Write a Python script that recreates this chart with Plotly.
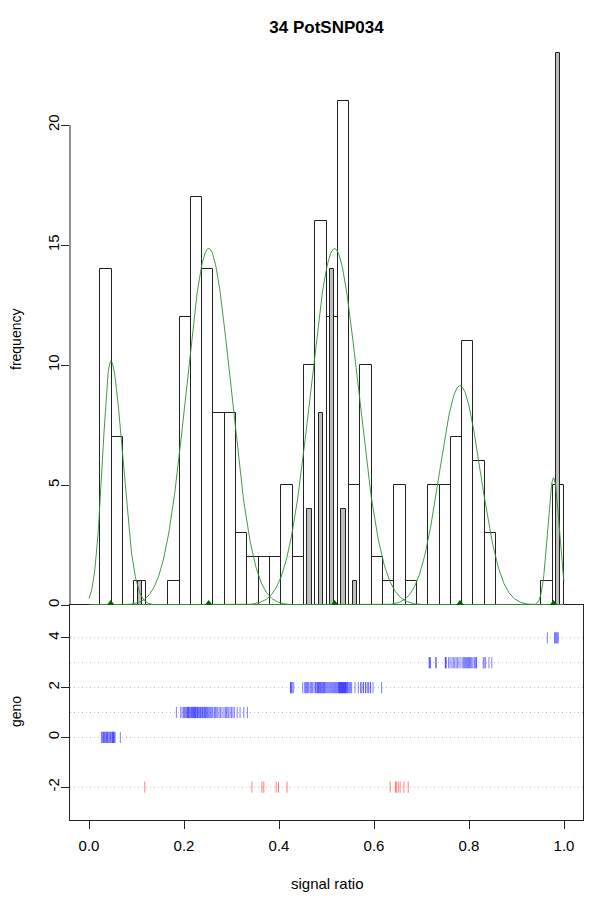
import numpy as np
import plotly.graph_objects as go

title_text = "34 PotSNP034"

# ---- histogram (wide bins) ----
bin_start = 0.024
bin_width = 0.0238
counts_all = [14, 7, 0, 1, 0, 0, 1, 12, 17, 14, 8, 8, 3, 2, 2, 2, 5, 2, 10, 16,
              12, 21, 5, 10, 2, 1, 5, 1, 0, 5, 5, 7, 11, 6, 3, 0, 0, 0, 0, 1, 5]

# ---- narrow gray bars (bin index, count) ----
gray_bins = [3, 18, 19, 20, 21, 22, 40]
gray_counts = [1, 4, 8, 14, 4, 1, 23]
gray_bar_width = 0.0091

# ---- fitted mixture components ----
comp_means = [0.0457, 0.252, 0.517, 0.781, 0.978]
comp_peaks = [10.17, 14.86, 14.85, 9.14, 5.3]
comp_sd_left = [0.017, 0.047, 0.050, 0.043, 0.012]
comp_sd_right = [0.025, 0.047, 0.050, 0.043, 0.012]

# ---- genotype rug positions ----
geno_4 = [0.965, 0.980, 0.982, 0.984, 0.986, 0.988]
geno_3 = [0.716, 0.717, 0.719, 0.730, 0.731,
          0.750, 0.751, 0.752, 0.757, 0.760,
          0.764, 0.767, 0.770, 0.773, 0.776, 0.779, 0.783,
          0.787, 0.789, 0.791, 0.793, 0.795, 0.797, 0.799, 0.801, 0.803, 0.805, 0.808,
          0.811, 0.813, 0.815, 0.816, 0.830, 0.832,
          0.835, 0.842, 0.848]
geno_2 = [0.424, 0.425, 0.426, 0.428, 0.431, 0.450,
          0.454, 0.456, 0.458, 0.460, 0.462, 0.465, 0.467, 0.469, 0.471, 0.474,
          0.477, 0.478, 0.480, 0.481, 0.483, 0.484, 0.485, 0.487, 0.488, 0.490,
          0.491, 0.493, 0.494, 0.496, 0.497, 0.499,
          0.501, 0.503, 0.505, 0.507, 0.509, 0.511, 0.513, 0.515, 0.517, 0.519, 0.521, 0.523,
          0.525, 0.526, 0.527, 0.528, 0.529, 0.530, 0.531, 0.532, 0.533, 0.534, 0.535,
          0.536, 0.537, 0.538, 0.539, 0.540, 0.541, 0.542, 0.544, 0.545, 0.547,
          0.549, 0.551, 0.553, 0.560, 0.567,
          0.572, 0.573, 0.577, 0.578, 0.582, 0.583, 0.587, 0.588, 0.592, 0.593,
          0.598, 0.616]
geno_1 = [0.184,
          0.193, 0.196, 0.199, 0.201, 0.203, 0.205, 0.207, 0.208, 0.209, 0.210, 0.212, 0.213,
          0.215, 0.216, 0.218, 0.219, 0.220, 0.222, 0.223, 0.224, 0.225, 0.227, 0.228,
          0.229, 0.231, 0.232, 0.234, 0.235, 0.237,
          0.239, 0.240, 0.242, 0.243, 0.245, 0.246, 0.248, 0.249, 0.251, 0.253, 0.255,
          0.257, 0.259, 0.261,
          0.264, 0.266, 0.268, 0.271, 0.274, 0.277, 0.280, 0.284,
          0.287, 0.289, 0.291, 0.294, 0.297, 0.300, 0.303, 0.306,
          0.312, 0.318, 0.326, 0.3335]
geno_0 = [0.026, 0.028, 0.030, 0.031, 0.033, 0.034, 0.036, 0.037, 0.039, 0.040,
          0.042, 0.044, 0.045, 0.047, 0.049, 0.050, 0.051, 0.052, 0.053, 0.055, 0.066]
geno_m2 = [0.1175, 0.343, 0.364, 0.368, 0.394, 0.399, 0.417,
           0.634, 0.645, 0.647, 0.651, 0.655, 0.663, 0.672]

geno_rows = [(4, geno_4), (3, geno_3), (2, geno_2), (1, geno_1), (0, geno_0)]
grid_levels = [-2, 0, 1, 2, 3, 4]

x_ticks = [0.0, 0.2, 0.4, 0.6, 0.8, 1.0]
freq_ticks = [0, 5, 10, 15, 20]
geno_ticks = [-2, 0, 2, 4]

FONT = "Liberation Sans, Arial, Helvetica, sans-serif"

# page body has an 8px margin; figure sized/placed to compensate
FIG_W, FIG_H = 592, 901
ML, MT = 62, 37
PW, PH = 513, 775
MR = FIG_W - ML - PW
MB = FIG_H - MT - PH

fig = go.Figure()

# wide histogram
centers = [bin_start + (i + 0.5) * bin_width for i in range(len(counts_all))]
fig.add_trace(go.Bar(x=centers, y=counts_all, width=bin_width,
                     marker=dict(color="white", line=dict(color="#222222", width=1)),
                     xaxis="x2", yaxis="y2", showlegend=False, hoverinfo="skip"))
# gray narrow bars
gcenters = [bin_start + (i + 0.5) * bin_width for i in gray_bins]
fig.add_trace(go.Bar(x=gcenters, y=gray_counts, width=gray_bar_width,
                     marker=dict(color="#bebebe", line=dict(color="#222222", width=1)),
                     xaxis="x2", yaxis="y2", showlegend=False, hoverinfo="skip"))

# mixture curves
xs = np.linspace(0, 1, 801)
for m, p, sl, sr in zip(comp_means, comp_peaks, comp_sd_left, comp_sd_right):
    sd = np.where(xs < m, sl, sr)
    ys = p * np.exp(-((xs - m) ** 2) / (2 * sd ** 2))
    fig.add_trace(go.Scatter(x=xs, y=ys, mode="lines",
                             line=dict(color="#2f8f2f", width=0.9),
                             xaxis="x2", yaxis="y2", showlegend=False, hoverinfo="skip"))
fig.add_trace(go.Scatter(x=comp_means, y=[0] * len(comp_means), mode="markers",
                         marker=dict(symbol="triangle-up", size=10, color="darkgreen"),
                         xaxis="x2", yaxis="y2", showlegend=False, cliponaxis=True,
                         hoverinfo="skip"))

# rug
for lvl, vals in geno_rows:
    fig.add_trace(go.Scatter(x=vals, y=[lvl] * len(vals), mode="markers",
                             marker=dict(symbol="line-ns", size=8, color="rgba(0,0,255,0.5)",
                                         line=dict(color="rgba(0,0,255,0.5)", width=1)),
                             xaxis="x", yaxis="y", showlegend=False, hoverinfo="skip"))
fig.add_trace(go.Scatter(x=geno_m2, y=[-2] * len(geno_m2), mode="markers",
                         marker=dict(symbol="line-ns", size=8, color="rgba(255,0,0,0.5)",
                                     line=dict(color="rgba(255,0,0,0.5)", width=1)),
                         xaxis="x", yaxis="y", showlegend=False, hoverinfo="skip"))

shapes = []
for g in grid_levels:
    shapes.append(dict(type="line", xref="paper", yref="y", x0=0, x1=1, y0=g, y1=g,
                       line=dict(color="#bdbdbd", width=1, dash="1px,3px"), layer="below"))
shapes.append(dict(type="line", xref="paper", yref="y2", x0=0, x1=0, y0=0, y1=20,
                   line=dict(color="#222222", width=1)))

split = 215 / PH
top_range = PH * (1 - split) / 24.0

fig.update_layout(
    width=FIG_W, height=FIG_H,
    margin=dict(l=ML, r=MR, t=MT, b=MB, autoexpand=False),
    paper_bgcolor="white", plot_bgcolor="white",
    font=dict(family=FONT, size=15, color="black"),
    bargap=0, barmode="overlay",
    title=dict(text="<b>" + title_text + "</b>", x=0.5, xref="paper",
               y=1 - 19 / FIG_H, yref="container", yanchor="middle",
               font=dict(size=17, family=FONT), automargin=False),
    shapes=shapes,
    xaxis=dict(domain=[0, 1], range=[-0.04, 1.04], tickvals=x_ticks,
               ticktext=["%.1f" % v for v in x_ticks], ticks="outside", ticklen=8,
               tickcolor="#222222", showline=True, mirror=True, linecolor="#222222",
               linewidth=1, showgrid=False, zeroline=False, ticklabelstandoff=4,
               automargin=False),
    yaxis=dict(domain=[0, split], range=[-3.32, 5.32], tickvals=geno_ticks,
               ticktext=[str(v) for v in geno_ticks], tickangle=-90, ticks="outside",
               ticklen=8, tickcolor="#222222", showline=True, mirror=True,
               linecolor="#222222", linewidth=1, showgrid=False, zeroline=False,
               ticklabelstandoff=-4, automargin=False),
    xaxis2=dict(domain=[0, 1], range=[-0.04, 1.04], anchor="y2", visible=False,
                automargin=False),
    yaxis2=dict(domain=[split, 1], range=[0, top_range], anchor="x2",
                tickvals=freq_ticks, ticktext=[str(v) for v in freq_ticks],
                tickangle=-90, ticks="outside", ticklen=8, tickcolor="#222222",
                showline=False, showgrid=False, zeroline=False, ticklabelstandoff=-4,
                automargin=False),
    annotations=[
        dict(text="frequency", xref="paper", yref="paper", x=(16 - 70) / PW,
             y=(820 - 340) / PH, textangle=-90, showarrow=False,
             xanchor="center", yanchor="middle", font=dict(size=14)),
        dict(text="geno", xref="paper", yref="paper", x=(16 - 70) / PW,
             y=(820 - 712) / PH, textangle=-90, showarrow=False,
             xanchor="center", yanchor="middle", font=dict(size=14)),
        dict(text="signal ratio", xref="paper", yref="paper", x=(327 - 70) / PW,
             y=(820 - 883) / PH, showarrow=False,
             xanchor="center", yanchor="middle", font=dict(size=15)),
    ],
)

fig.write_html("out.html")
